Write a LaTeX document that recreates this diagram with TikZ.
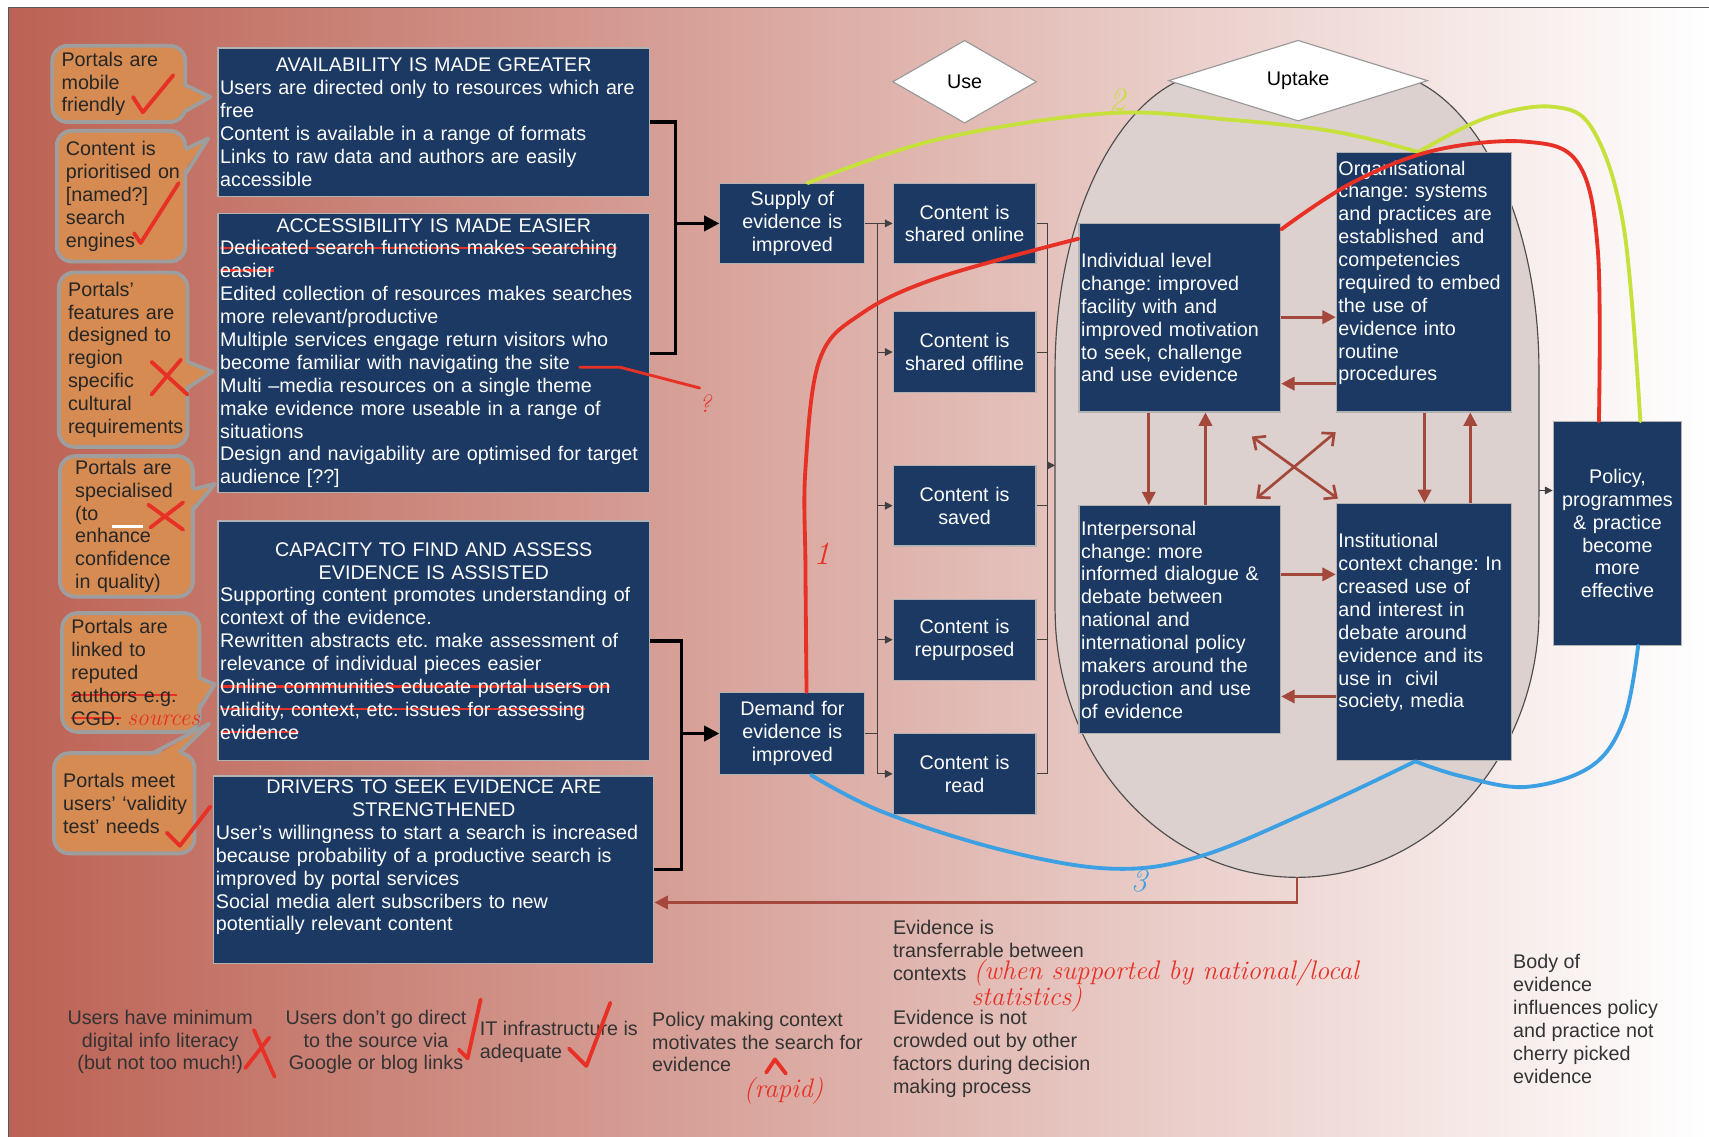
\documentclass[tikz,border=0pt]{standalone}
\usepackage{fontspec}
\newfontfamily\arial{Liberation Sans}
\usetikzlibrary{arrows.meta,calc,shapes.geometric}
\definecolor{navy}{RGB}{27,57,99}
\definecolor{notefill}{RGB}{213,139,82}
\definecolor{noteedge}{RGB}{158,158,158}
\definecolor{rust}{RGB}{163,72,58}
\definecolor{inkred}{RGB}{231,48,38}
\definecolor{inkblue}{RGB}{60,160,226}
\definecolor{inkgreen}{RGB}{198,224,60}
\definecolor{bgleft}{RGB}{188,98,84}
\definecolor{archfill}{RGB}{221,209,207}
\setlength\parindent{0pt}
\frenchspacing
\hyphenpenalty=10000
\exhyphenpenalty=10000
\newcommand\boxfont{\arial\fontsize{10.3}{11.95}\selectfont}
\newcommand\handfont{\normalfont\itshape\fontsize{14}{15}\selectfont}
\newcommand\boxtitle[1]{{\centering #1\par}}
\newcommand\redstrike[1]{\leavevmode\setbox0\hbox{#1}\rlap{\textcolor{inkred}{\rule[0.3em]{\wd0}{0.13em}}}\box0}
\tikzset{
  box/.style={draw=gray!60, line width=0.6pt, fill=navy, text=white, font=\boxfont, align=left, inner xsep=0.04cm, inner ysep=0pt},
  cbox/.style={box, align=center},
  note/.style={draw=noteedge, line width=2pt, fill=notefill, rounded corners=8pt, text=black!85, font=\boxfont, align=left, inner xsep=0.17cm, inner ysep=0pt},
  tailedge/.style={draw=noteedge, line width=2pt, line join=round},
  freetext/.style={font=\boxfont, text=black!80, inner sep=0pt},
  hw/.style={font=\handfont, text=inkred, inner sep=0pt},
  link/.style={line width=1.7pt, -{Triangle[length=8pt,width=8pt]}},
  wire/.style={line width=0.5pt, black!75},
  wirehead/.style={wire, -{Triangle[length=4pt,width=4pt]}},
  rustarrow/.style={draw=rust, line width=1.4pt, -{Triangle[length=7pt,width=7pt]}},
  rustboth/.style={draw=rust, line width=1.4pt, {Straight Barb[length=5pt,width=9pt]}-{Straight Barb[length=5pt,width=9pt]}},
  ink/.style={line width=2pt, line cap=round, line join=round},
}
\begin{document}
\begin{tikzpicture}[x=0.02cm, y=-0.02cm]
\useasboundingbox (0,0) rectangle (1568,1043);
\fill[white] (0,0) rectangle (1568,1043);
\shade[left color=bgleft, right color=white] (8,7) rectangle (1568,1043);
\draw[gray!70!black, line width=0.7pt] (1568,7) -- (8,7) -- (8,1043);

\node[note, text width=2.10cm, minimum width=2.44cm, minimum height=1.40cm] (mobile) at (109,77) {Portals are\\mobile\\friendly};
\node[note, text width=2.02cm, minimum width=2.36cm, minimum height=2.40cm] (engines) at (111,180) {Content is\\\mbox{prioritised on}\\{[}named?{]}\\search\\engines};
\node[note, text width=2.02cm, minimum width=2.36cm, minimum height=3.20cm] (region) at (113,330) {Portals’\\features are\\designed to\\region\\specific\\cultural\\\mbox{requirements}};
\node[note, inner xsep=0.28cm, text width=1.88cm, minimum width=2.44cm, minimum height=2.58cm] (special) at (116,483) {Portals are\\specialised\\(to\\enhance\\confidence\\in quality)};
\node[note, text width=2.18cm, minimum width=2.52cm, minimum height=2.18cm] (reputed) at (120,617) {Portals are\\linked to\\reputed\\\redstrike{authors e.g.}\\\mbox{\redstrike{CGD.}\ {\handfont\color{inkred}\fontsize{12.5}{13}\selectfont sources}}};
\node[note, text width=2.24cm, minimum width=2.58cm, minimum height=1.84cm] (validity) at (114,737) {Portals meet\\\mbox{users’ ‘validity}\\test’ needs};

\fill[notefill] (166,78) -- (193,89) -- (166,102) -- cycle;
\draw[tailedge] (170,78) -- (193,89) -- (170,102);
\fill[notefill] (166,137) -- (191,127) -- (166,160) -- cycle;
\draw[tailedge] (170,137) -- (191,127) -- (170,160);
\fill[notefill] (168,332) -- (195,341) -- (168,356) -- cycle;
\draw[tailedge] (172,332) -- (195,341) -- (172,356);
\fill[notefill] (173,449) -- (197,444) -- (173,468) -- cycle;
\draw[tailedge] (177,449) -- (197,444) -- (177,468);
\fill[notefill] (179,622) -- (197,628) -- (179,650) -- cycle;
\draw[tailedge] (183,622) -- (197,628) -- (183,650);
\fill[notefill] (140,695) -- (192,664) -- (164,695) -- cycle;
\draw[tailedge] (140,691) -- (192,664) -- (164,691);

\node[box, text width=7.84cm, minimum height=2.72cm] (avail) at (398,112) {\boxtitle{AVAILABILITY IS MADE GREATER}Users are directed only to resources which are\\free\\Content is available in a range of formats\\Links to raw data and authors are easily\\accessible};
\node[box, text width=7.84cm, minimum height=5.12cm] (access) at (398,324) {\boxtitle{ACCESSIBILITY IS MADE EASIER}\redstrike{Dedicated search functions makes searching}\\\redstrike{easier}\\Edited collection of resources makes searches\\more relevant/productive\\Multiple services engage return visitors who\\become familiar with navigating the site\\Multi –media resources on a single theme\\make evidence more useable in a range of\\situations\\Design and navigability are optimised for target\\audience [??]};
\node[box, text width=7.84cm, minimum height=4.40cm] (capacity) at (398,588) {\boxtitle{CAPACITY TO FIND AND ASSESS\\EVIDENCE IS ASSISTED}Supporting content promotes understanding of\\context of the evidence.\\Rewritten abstracts etc. make assessment of\\relevance of individual pieces easier\\\redstrike{Online communities educate portal users on}\\\redstrike{validity, context, etc. issues for assessing}\\\redstrike{evidence}};
\node[box, text width=8.00cm, minimum height=3.44cm] (drivers) at (398,798) {\boxtitle{DRIVERS TO SEEK EVIDENCE ARE\\STRENGTHENED}User’s willingness to start a search is increased\\because probability of a productive search is\\improved by portal services\\Social media alert subscribers to new\\potentially relevant content\\[3pt]\mbox{}};

\node[cbox, text width=2.58cm, minimum height=1.46cm] (supply) at (727,205) {Supply of\\evidence is\\improved};
\node[cbox, text width=2.58cm, minimum height=1.50cm] (demand) at (727,673) {Demand for\\evidence is\\improved};
\foreach \name/\y/\what in {online/205/shared online, offline/323/shared offline, saved/464/saved, repurposed/587/repurposed, read/710/read}
  \node[cbox, text width=2.54cm, minimum height=1.48cm] (\name) at (885,\y) {Content is\\\what};

\node[diamond, draw=gray!80, fill=white, line width=0.6pt, minimum width=2.64cm, minimum height=1.52cm, inner sep=0pt, font=\boxfont] (use) at (885,75) {Use};

\filldraw[fill=archfill, draw=gray!60!black, line width=0.6pt] (968,560) -- (968,340) arc[start angle=180, end angle=90, x radius=3.04cm, y radius=5.5cm] -- (1260,65) arc[start angle=90, end angle=0, x radius=3.04cm, y radius=5.5cm] -- (1412,560) arc[start angle=0, end angle=-180, x radius=4.44cm, y radius=4.9cm] -- cycle;
\coordinate (archleft) at (968,427);
\coordinate (archright) at (1412,450);
\coordinate (archbottom) at (1190,805);

\node[diamond, draw=gray!80, fill=white, line width=0.6pt, minimum width=4.76cm, minimum height=1.48cm, inner sep=0pt, font=\boxfont] (uptake) at (1191,74) {Uptake};

\node[box, text width=3.62cm, minimum height=3.46cm] (indiv) at (1082.5,291.5) {Individual level\\change: improved\\facility with and\\improved motivation\\to seek, challenge\\and use evidence};
\node[box, text width=3.14cm, minimum height=4.76cm] (org) at (1306.5,259) {Organisational\\change: systems\\and practices are\\established~ and\\competencies\\required to embed\\the use of\\evidence into\\routine\\procedures\\\mbox{}};
\node[box, text width=3.62cm, minimum height=4.18cm] (inter) at (1082.5,568.5) {Interpersonal\\change: more\\informed dialogue \&\\debate between\\national and\\international policy\\makers around the\\production and use\\of evidence};
\node[box, text width=3.14cm, minimum height=4.72cm] (inst) at (1306.5,580) {Institutional\\context change: In\\creased use of\\and interest in\\debate around\\evidence and its\\use in~ civil\\society, media\\\mbox{}};
\node[cbox, text width=2.28cm, minimum height=4.10cm] (policy) at (1484,489.5) {Policy,\\programmes\\\& practice\\become\\more\\effective};

\draw[line width=1.7pt] (avail.east) -| (620,205) |- (access.east);
\draw[link] (620,205) -- (supply.west);
\draw[line width=1.7pt] (capacity.east) -| (625,673) |- (drivers.east);
\draw[link] (625,673) -- (demand.west);

\draw[wirehead] (supply.east) -- (online.west);
\draw[wire] (805,0 |- online.west) -- (805,0 |- read.west);
\draw[wire] (demand.east) -- (805,0 |- demand.east);
\foreach \n in {offline,saved,repurposed,read}
  \draw[wirehead] (805,0 |- \n.west) -- (\n.west);
\foreach \n in {online,offline,saved,repurposed,read}
  \draw[wire] (\n.east) -- (961,0 |- \n.east);
\draw[wire] (961,0 |- online.east) -- (961,0 |- read.east);
\draw[wirehead] (961,427) -- (archleft);
\draw[wirehead] (archright) -- (policy.west |- archright);

\draw[rustarrow] (indiv.east |- 0,291) -- (org.west |- 0,291);
\draw[rustarrow] (org.west |- 0,352) -- (indiv.east |- 0,352);
\draw[rustarrow] (inter.east |- 0,527) -- (inst.west |- 0,527);
\draw[rustarrow] (inst.west |- 0,639) -- (inter.east |- 0,639);
\draw[rustarrow] (1054,0 |- indiv.south) -- (1054,0 |- inter.north);
\draw[rustarrow] (1106,0 |- inter.north) -- (1106,0 |- indiv.south);
\draw[rustarrow] (1307,0 |- org.south) -- (1307,0 |- inst.north);
\draw[rustarrow] (1349,0 |- inst.north) -- (1349,0 |- org.south);
\draw[rustboth] ([shift={(-27,22)}]indiv.south east) -- ([shift={(2,-4)}]inst.north west);
\draw[rustboth] ([shift={(0,18)}]org.south west) -- ([shift={(-23,-6)}]inter.north east);
\draw[rust, line width=1.2pt, -{Triangle[length=7pt,width=7pt]}] (archbottom) |- (drivers.east |- 0,828);

\node[freetext, align=center] (literacy) at (147,956) {Users have minimum\\digital info literacy\\(but not too much!)};
\node[freetext, align=center] (direct) at (345,956) {Users don’t go direct\\to the source via\\Google or blog links};
\node[freetext, align=left, anchor=west] (infra) at (440,956) {IT infrastructure is\\adequate};
\node[freetext, align=left, anchor=west] (context) at (598,956) {Policy making context\\motivates the search for\\evidence};
\node[freetext, align=left, anchor=west] (transfer) at (819,872) {Evidence is\\transferrable between\\contexts};
\node[freetext, align=left, anchor=west] (crowded) at (819,967) {Evidence is not\\crowded out by other\\factors during decision\\making process};
\node[freetext, align=left, anchor=west] (cherry) at (1388,935) {Body of\\evidence\\influences policy\\and practice not\\cherry picked\\evidence};

\node[hw, anchor=west] (when) at (893,893) {(when supported by national/local};
\node[hw, anchor=west] (stats) at (891,916) {statistics)};
\node[hw] (rapid) at (719,1001) {(rapid)};
\node[hw, font=\handfont\fontsize{13}{14}\selectfont] (query) at (647,370) {?};

\path ([xshift=0.28cm]supply.north) coordinate (g0) ([xshift=-0.1cm]org.north) coordinate (g1) ([xshift=0.42cm]policy.north) coordinate (g2);
\path ([xshift=0.26cm]demand.north) coordinate (r0) (indiv.west |- 0,219) coordinate (r1) ([yshift=-0.12cm]indiv.north east) coordinate (r2) ([xshift=-0.34cm]policy.north) coordinate (r3);
\path ([xshift=0.34cm]demand.south) coordinate (b0) ([xshift=-0.16cm]inst.south) coordinate (b1) ([xshift=0.38cm]policy.south) coordinate (b2);

\draw[ink, inkgreen] plot[smooth, tension=0.6] coordinates {(g0) (860,128) (1015,104) (1130,110) (1226,121) (g1)};
\draw[ink, inkgreen] plot[smooth, tension=0.6] coordinates {(g1) (1364,108) (1425,98) (1462,120) (1490,210) (g2)};
\draw[ink, inkred] plot[smooth, tension=0.6] coordinates {(r0) (739,520) (739,430) (752,330) (790,288) (860,255) (r1)};
\draw[ink, inkred] plot[smooth, tension=0.6] coordinates {(r2) (1240,168) (1316,138) (1400,130) (1448,150) (1466,230) (r3)};
\draw[ink, inkblue] plot[smooth, tension=0.6] coordinates {(b0) (810,745) (920,780) (1020,797) (1100,786) (1200,745) (b1)};
\draw[ink, inkblue] plot[smooth, tension=0.6] coordinates {(b1) (1340,712) (1400,722) (1460,703) (1490,660) (b2)};

\node[font=\handfont\fontsize{17}{17}\selectfont, text=inkred] (one) at (754,508) {1};
\node[font=\handfont\fontsize{17}{17}\selectfont, text=inkgreen] (two) at (1025,92) {2};
\node[font=\handfont\fontsize{17}{17}\selectfont, text=inkblue] (three) at (1045,808) {3};

\draw[ink, inkred] (122,89) -- (131,103) -- (159,69);
\draw[ink, inkred] (123,214) -- (129,223) -- (164,168);
\draw[ink, inkred] (139,332) -- (172,362) (166,330) -- (139,362);
\draw[ink, inkred] (136,463) -- (168,486) (168,461) -- (138,484);
\draw[white, line width=1.2pt] (103,483) -- (131,483);
\draw[ink, inkred] (153,764) -- (165,776) -- (193,740);
\draw[ink, inkred, line width=1.5pt] (532,337) -- (569,337) -- (642,356);
\draw[ink, inkred] (233,945) -- (252,988) (225,980) -- (247,952);
\draw[ink, inkred] (421,963) -- (429,971) -- (441,917);
\draw[ink, inkred] (522,962) -- (538,978) -- (560,920);
\draw[ink, inkred] (703,984) -- (711,972) -- (721,985);
\end{tikzpicture}
\end{document}
